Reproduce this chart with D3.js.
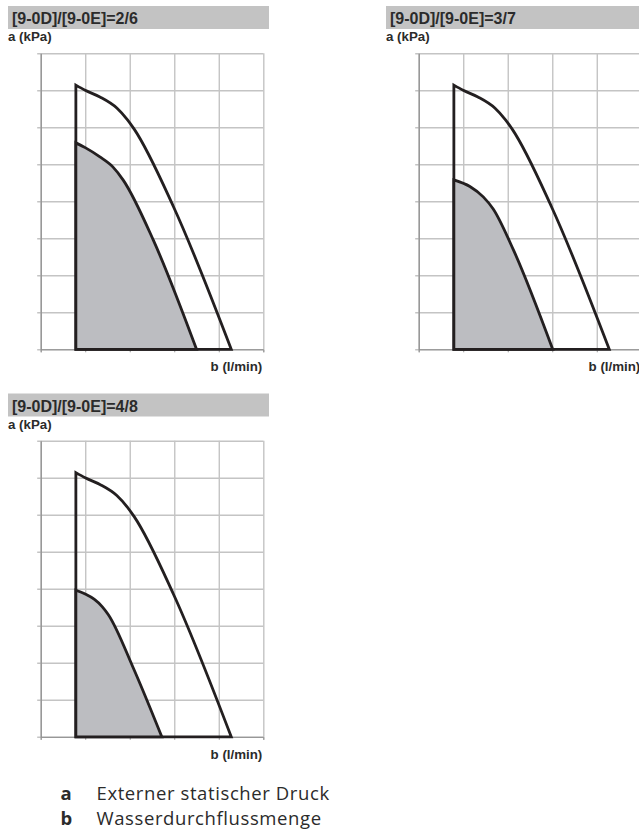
<!DOCTYPE html>
<html>
<head>
<meta charset="utf-8">
<script src="https://cdn.jsdelivr.net/npm/d3@7"></script>
<style>
  html, body { margin: 0; padding: 0; background: #ffffff; }
  svg { display: block; }
</style>
</head>
<body>
<svg id="chart" width="639" height="832"></svg>
<script>
// ---------- data (grid units: x = columns 0..5, y = rows 0..8) ----------
const panelTitles = ["[9-0D]/[9-0E]=2/6", "[9-0D]/[9-0E]=3/7", "[9-0D]/[9-0E]=4/8"];
const xTicks = [0, 1, 2, 3, 4, 5];
const yTicks = [0, 1, 2, 3, 4, 5, 6, 7, 8];
const yAxisLabel = "a (kPa)";
const xAxisLabel = "b (l/min)";

// maximum curve (same for all three settings)
const outerCurve = [[0.79, 7.14], [1.0, 7.0], [1.33, 6.82], [1.71, 6.52], [1.95, 6.2], [2.1, 5.95], [2.98, 3.86], [4.28, 0]];
// operating range (shaded) per setting
const inner26 = [[0.79, 5.58], [1.0, 5.45], [1.33, 5.2], [1.62, 4.93], [1.85, 4.58], [2.53, 2.95], [3.5, 0]];
const inner37 = [[0.79, 4.58], [1.15, 4.40], [1.45, 4.12], [1.67, 3.8], [2.13, 2.68], [3.01, 0]];
const inner48 = [[0.79, 3.96], [1.0, 3.86], [1.2, 3.72], [1.38, 3.52], [1.52, 3.3], [2.08, 1.86], [2.72, 0]];
const innerCurves = [inner26, inner37, inner48];

const legendKeys = ["a", "b"];
const legendTexts = ["Externer statischer Druck", "Wasserdurchflussmenge"];

// ---------- layout ----------
const svg = d3.select("#chart");
const panelOffsets = [[0, 0], [378, 0], [0, 387.5]];
const plot = { left: 40.7, top: 53.3, width: 222.6, height: 296 };

const x = d3.scaleLinear().domain([0, 5]).range([0, plot.width]);
const y = d3.scaleLinear().domain([0, 8]).range([plot.height, 0]);

// area closed to y = 0 gives the vertical left edge and the bottom edge
const area = d3.area()
  .x(d => x(d[0]))
  .y0(y(0))
  .y1(d => y(d[1]))
  .curve(d3.curveMonotoneX);

panelTitles.forEach((title, i) => {
  const [ox, oy] = panelOffsets[i];
  const g = svg.append("g").attr("transform", `translate(${ox},${oy})`);

  // title bar
  g.append("rect")
    .attr("x", 8).attr("y", 6)
    .attr("width", 261).attr("height", 23)
    .attr("fill", "#c3c3c3");
  g.append("text")
    .attr("x", 12).attr("y", 24)
    .attr("font-family", "'Liberation Sans', Arial, sans-serif")
    .attr("font-weight", "bold")
    .attr("font-size", 16)
    .attr("fill", "#2b2b2b")
    .text(title);

  // y axis label
  g.append("text")
    .attr("x", 8).attr("y", 41)
    .attr("font-family", "'Liberation Sans', Arial, sans-serif")
    .attr("font-weight", "bold")
    .attr("font-size", 13.3)
    .attr("fill", "#2b2b2b")
    .text(yAxisLabel);

  // x axis label
  g.append("text")
    .attr("x", plot.left + plot.width - 1).attr("y", 371)
    .attr("text-anchor", "end")
    .attr("font-family", "'Liberation Sans', Arial, sans-serif")
    .attr("font-weight", "bold")
    .attr("font-size", 13.3)
    .attr("fill", "#2b2b2b")
    .text(xAxisLabel);

  const pg = g.append("g").attr("transform", `translate(${plot.left},${plot.top})`);

  // vertical gridlines
  const vg = pg.append("g")
    .attr("transform", `translate(0,${plot.height})`)
    .call(d3.axisBottom(x).tickValues(xTicks).tickSize(-plot.height).tickFormat(""));
  vg.select(".domain").remove();
  vg.selectAll(".tick line").attr("stroke", "#c4c4c4").attr("stroke-width", 1.4);

  // horizontal gridlines (extending left as ticks)
  const hg = pg.append("g")
    .call(d3.axisLeft(y).tickValues(yTicks).tickSize(-plot.width).tickFormat(""));
  hg.select(".domain").remove();
  hg.selectAll(".tick line").attr("x1", -3.5).attr("stroke", "#c4c4c4").attr("stroke-width", 1.4);

  // bottom ticks
  const bt = pg.append("g")
    .attr("transform", `translate(0,${plot.height})`)
    .call(d3.axisBottom(x).tickValues(xTicks).tickSize(3).tickFormat(""));
  bt.select(".domain").attr("stroke", "#8c8c8c");
  bt.selectAll(".tick line").attr("stroke", "#9a9a9a");

  // left axis line
  const la = pg.append("g")
    .call(d3.axisLeft(y).tickValues([]).tickSizeOuter(0));
  la.select(".domain").attr("stroke", "#8c8c8c").attr("stroke-width", 1.2);

  // outer (max) curve
  pg.append("path")
    .datum(outerCurve)
    .attr("d", area)
    .attr("fill", "none")
    .attr("stroke", "#231f20")
    .attr("stroke-width", 2.8)
    .attr("stroke-linejoin", "miter");

  // inner shaded area
  pg.append("path")
    .datum(innerCurves[i])
    .attr("d", area)
    .attr("fill", "#bcbdc1")
    .attr("stroke", "#231f20")
    .attr("stroke-width", 2.8)
    .attr("stroke-linejoin", "miter");
});

// ---------- legend ----------
const legendBaselines = [799.5, 825];
legendKeys.forEach((k, i) => {
  svg.append("text")
    .attr("x", 60.5).attr("y", legendBaselines[i])
    .attr("font-family", "'Open Sans', sans-serif")
    .attr("font-weight", "bold")
    .attr("font-size", 18.5)
    .attr("fill", "#2b2b2b")
    .text(k);
  svg.append("text")
    .attr("x", 96.5).attr("y", legendBaselines[i])
    .attr("font-family", "'Open Sans', sans-serif")
    .attr("font-size", 18.5)
    .attr("letter-spacing", 0.6)
    .attr("fill", "#2b2b2b")
    .text(legendTexts[i]);
});
</script>
</body>
</html>
